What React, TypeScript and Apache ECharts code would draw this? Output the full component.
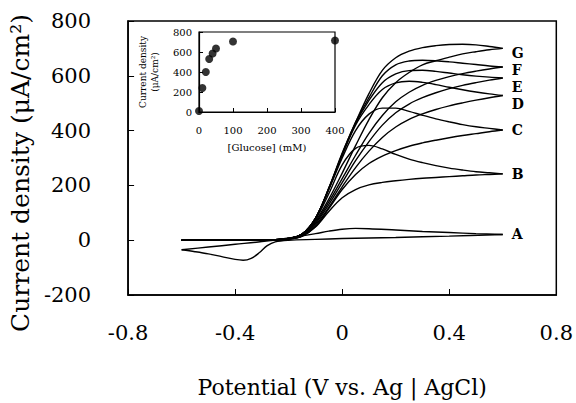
import React, { useEffect, useRef } from "react";
import * as echarts from "echarts";

// Potential grid (V) for curves B–G
const potential = [-0.6, -0.5, -0.4, -0.3, -0.25, -0.2, -0.15, -0.1, -0.05, 0, 0.05, 0.1, 0.15, 0.2, 0.25, 0.3, 0.35, 0.4, 0.45, 0.5, 0.55, 0.6];

// Anodic (upper, peaked) branches
const fwdB = [0, 0, 0, 1, 2, 6, 22, 75, 170, 275, 335, 346, 333, 313, 296, 283, 272, 263, 256, 250, 246, 242];
const fwdC = [0, 0, 0, 1, 2, 6, 22, 80, 185, 300, 400, 460, 482, 482, 470, 456, 443, 432, 422, 414, 408, 402];
const fwdD = [0, 0, 0, 1, 2, 6, 22, 80, 188, 310, 420, 495, 550, 574, 580, 576, 568, 558, 549, 541, 534, 528];
const fwdE = [0, 0, 0, 1, 2, 6, 22, 80, 188, 312, 425, 510, 575, 607, 619, 620, 616, 610, 604, 599, 595, 592];
const fwdF = [0, 0, 0, 1, 2, 6, 22, 80, 190, 315, 430, 520, 600, 640, 654, 657, 655, 651, 646, 641, 636, 632];
const fwdG = [0, 0, 0, 1, 2, 6, 22, 80, 190, 318, 430, 535, 620, 666, 690, 703, 710, 714, 715, 713, 707, 700];

// Return (lower, monotonic) branches, listed on the same ascending grid
const revB = [0, 0, 0, 0, 1, 4, 14, 48, 105, 155, 185, 202, 211, 217, 222, 226, 229, 232, 235, 238, 240, 242];
const revC = [0, 0, 0, 0, 1, 4, 15, 50, 115, 185, 240, 280, 307, 327, 343, 355, 365, 374, 382, 389, 396, 402];
const revD = [0, 0, 0, 0, 1, 4, 16, 55, 120, 195, 265, 325, 375, 413, 441, 461, 477, 490, 501, 511, 520, 528];
const revE = [0, 0, 0, 0, 1, 5, 18, 60, 130, 210, 290, 360, 420, 465, 497, 520, 538, 553, 565, 575, 584, 592];
const revF = [0, 0, 0, 0, 1, 5, 20, 65, 140, 225, 310, 390, 455, 505, 540, 565, 583, 597, 608, 617, 625, 632];
const revG = [0, 0, 0, 0, 1, 5, 22, 70, 150, 245, 345, 440, 520, 575, 612, 640, 655, 668, 680, 688, 695, 700];

// Curve A (no glucose)
const potentialAFwd = [-0.6, -0.5, -0.4, -0.3, -0.2, -0.1, -0.05, 0, 0.05, 0.1, 0.2, 0.3, 0.4, 0.5, 0.6];
const fwdA = [-35, -25, -15, -5, 8, 24, 33, 40, 43, 42, 37, 32, 28, 24, 21];
const potentialARev = [-0.6, -0.55, -0.5, -0.45, -0.4, -0.37, -0.34, -0.31, -0.28, -0.25, -0.2, -0.1, 0, 0.2, 0.4, 0.6];
const revA = [-35, -42, -50, -60, -70, -73, -66, -46, -20, -6, 0, 3, 6, 10, 15, 21];

const curveLabels = ["A", "B", "C", "D", "E", "F", "G"];

// Inset
const glucose = [0, 10, 20, 30, 40, 50, 100, 400];
const insetCurrent = [10, 240, 400, 530, 585, 635, 705, 715];

const SERIF = "'DejaVu Serif', 'Liberation Serif', serif";

export default function App() {
  const ref = useRef<HTMLDivElement>(null);
  useEffect(() => {
    if (!ref.current) return;
    const chart = echarts.init(ref.current, undefined, { renderer: "svg" });
    const zip = (xs: number[], ys: number[]) => xs.map((x, i) => [x, ys[i]]);
    const fwd = [fwdA, fwdB, fwdC, fwdD, fwdE, fwdF, fwdG];
    const rev = [revA, revB, revC, revD, revE, revF, revG];
    const labelOffsets = [0, 0, 0, 8, 9, 3, 5];
    const lineStyle = { color: "#000", width: 1.4 };
    const series: any[] = [];
    curveLabels.forEach((lab, i) => {
      const xf = i === 0 ? potentialAFwd : potential;
      const xr = i === 0 ? potentialARev : potential;
      series.push({
        type: "line",
        name: lab + " fwd",
        data: zip(xf, fwd[i]),
        smooth: 0.35,
        showSymbol: false,
        lineStyle,
        xAxisIndex: 0,
        yAxisIndex: 0,
        endLabel: {
          show: true,
          formatter: lab,
          distance: 9,
          offset: [0, labelOffsets[i]],
          color: "#000",
          fontFamily: SERIF,
          fontWeight: "bold",
          fontSize: 14,
          lineHeight: 14,
        },
      });
      series.push({
        type: "line",
        name: lab + " rev",
        data: zip(xr, rev[i]),
        smooth: 0.35,
        showSymbol: false,
        lineStyle,
        xAxisIndex: 0,
        yAxisIndex: 0,
      });
    });
    series.push({
      type: "scatter",
      data: zip(glucose, insetCurrent),
      symbolSize: 8,
      itemStyle: { color: "#000" },
      xAxisIndex: 1,
      yAxisIndex: 1,
      clip: false,
      z: 5,
    });

    chart.setOption({
      animation: false,
      backgroundColor: "#fff",
      grid: [
        { left: 125, right: 16, top: 21, bottom: 101, show: true, borderColor: "#000", borderWidth: 1.5, backgroundColor: "transparent" },
        { left: 199, top: 32, width: 136, height: 80, show: true, borderColor: "#000", borderWidth: 1.2, backgroundColor: "#fff" },
      ],
      xAxis: [
        {
          type: "value",
          gridIndex: 0,
          min: -0.8,
          max: 0.8,
          interval: 0.4,
          name: "Potential (V vs. Ag | AgCl)",
          nameLocation: "middle",
          nameGap: 81,
          nameTextStyle: { color: "#000", fontFamily: SERIF, fontSize: 22 },
          axisLine: { show: true, onZero: false, lineStyle: { color: "#000", width: 1.5 } },
          axisTick: { show: true, inside: true, length: 6, lineStyle: { color: "#000" } },
          axisLabel: {
            color: "#000",
            fontFamily: SERIF,
            fontSize: 21,
            margin: 27,
            formatter: (v: number) => (v === 0 ? "0" : v.toFixed(1)),
          },
          splitLine: { show: false },
        },
        {
          type: "value",
          gridIndex: 1,
          min: 0,
          max: 400,
          interval: 100,
          name: "[Glucose] (mM)",
          nameLocation: "middle",
          nameGap: 30,
          nameTextStyle: { color: "#000", fontFamily: SERIF, fontSize: 10 },
          axisLine: { show: true, onZero: false, lineStyle: { color: "#000", width: 1.2 } },
          axisTick: { show: true, inside: true, length: 4, lineStyle: { color: "#000" } },
          axisLabel: { color: "#000", fontFamily: SERIF, fontSize: 10, margin: 13 },
          splitLine: { show: false },
        },
      ],
      yAxis: [
        {
          type: "value",
          gridIndex: 0,
          min: -200,
          max: 800,
          interval: 200,
          name: "Current density (μA/cm²)",
          nameLocation: "middle",
          nameGap: 86,
          nameTextStyle: { color: "#000", fontFamily: SERIF, fontSize: 25, padding: [0, 30, 0, 0] },
          axisLine: { show: true, onZero: false, lineStyle: { color: "#000", width: 1.5 } },
          axisTick: { show: true, inside: true, length: 6, lineStyle: { color: "#000" } },
          axisLabel: { color: "#000", fontFamily: SERIF, fontSize: 21, margin: 37 },
          splitLine: { show: false },
        },
        {
          type: "value",
          gridIndex: 1,
          min: 0,
          max: 800,
          interval: 200,
          name: "Current density\n(μA/cm²)",
          nameLocation: "middle",
          nameGap: 38,
          nameTextStyle: { color: "#000", fontFamily: SERIF, fontSize: 9, lineHeight: 12 },
          axisLine: { show: true, onZero: false, lineStyle: { color: "#000", width: 1.2 } },
          axisTick: { show: true, inside: true, length: 4, lineStyle: { color: "#000" } },
          axisLabel: { color: "#000", fontFamily: SERIF, fontSize: 10, margin: 7 },
          splitLine: { show: false },
        },
      ],
      series,
    });
    return () => chart.dispose();
  }, []);
  return <div ref={ref} style={{ position: "fixed", left: 0, top: 0, width: 576, height: 403 }} />;
}
